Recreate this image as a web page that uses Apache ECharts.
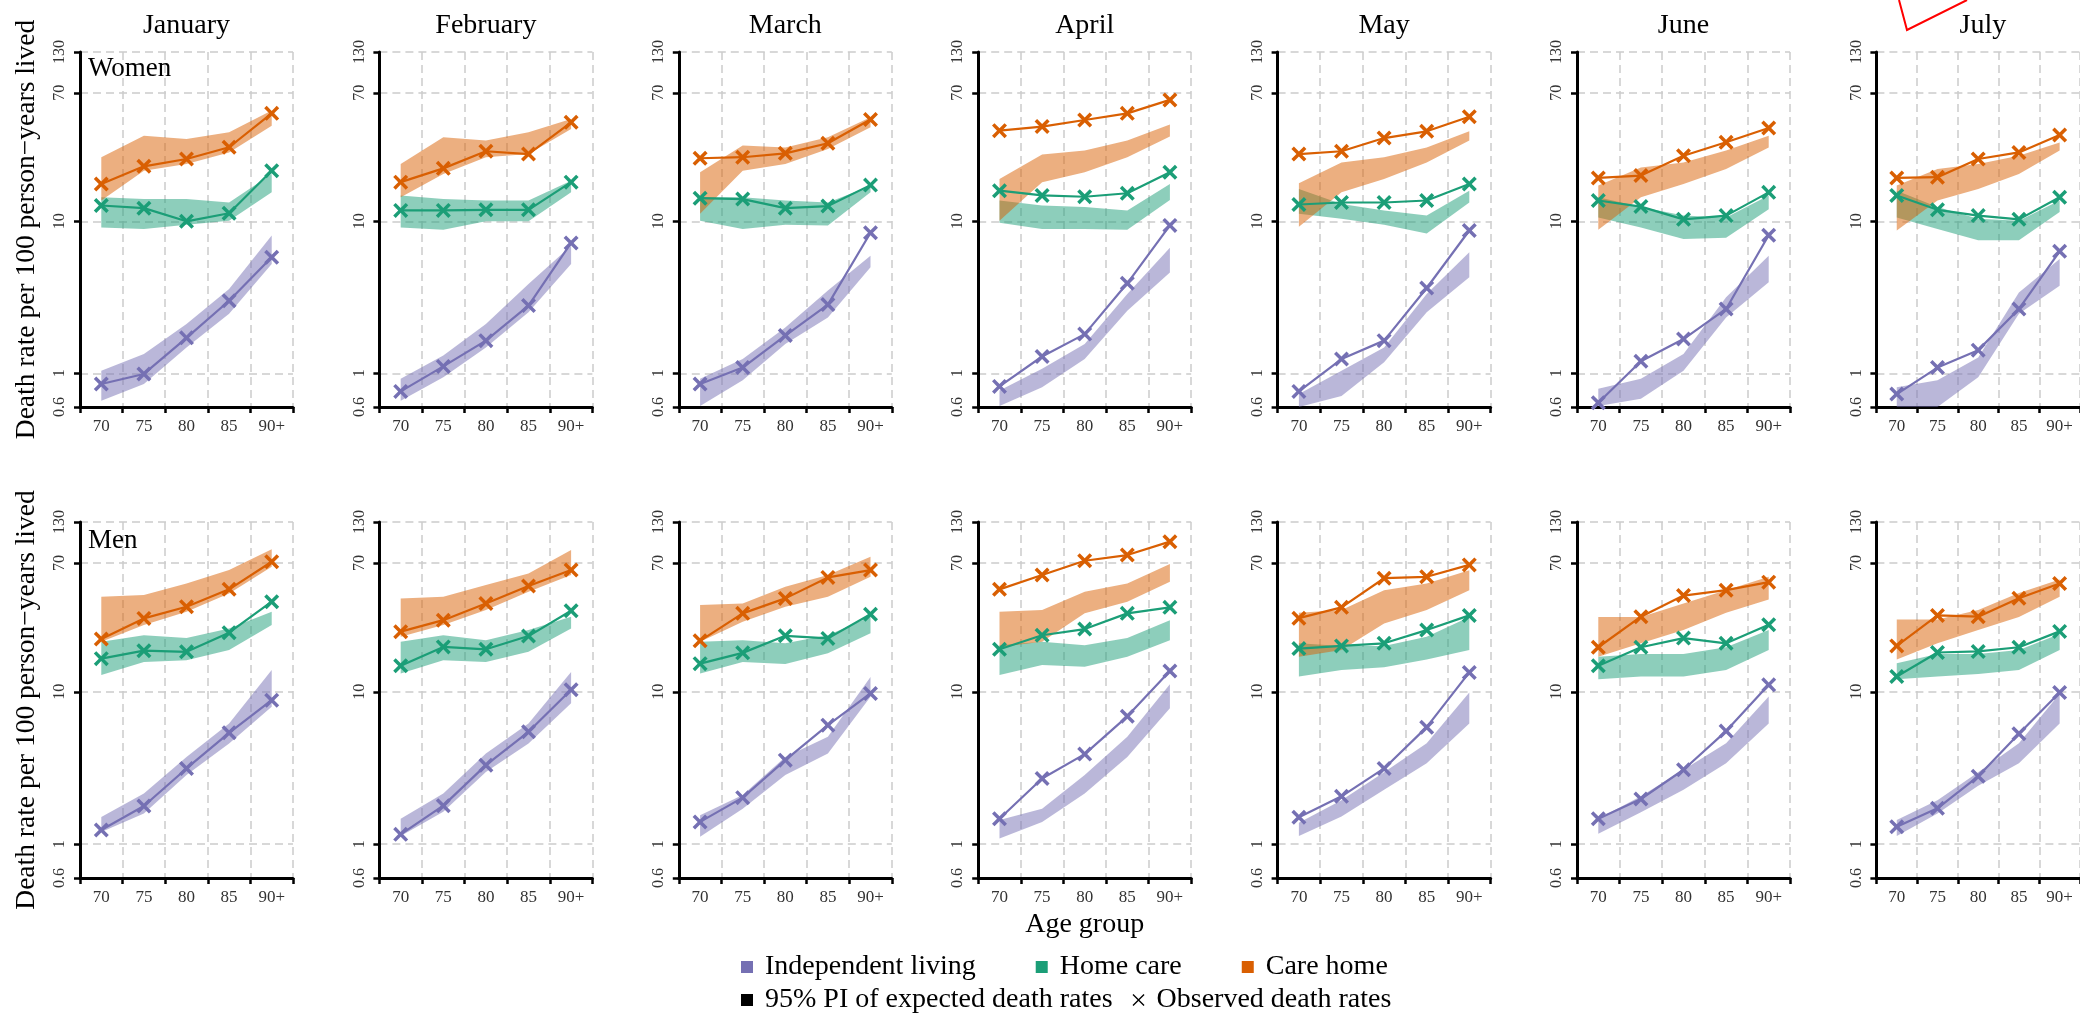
<!DOCTYPE html>
<html><head><meta charset="utf-8">
<script src="https://cdn.jsdelivr.net/npm/echarts@6/dist/echarts.min.js"></script>
<style>html,body{margin:0;padding:0;background:#fff}#c{width:2080px;height:1024px}</style>
</head><body><div id="c"></div><script>
// ---------- data ----------
const ageGroups = ['70', '75', '80', '85', '90+'];
const months = ['January', 'February', 'March', 'April', 'May', 'June', 'July'];
const yTickValues = [0.6, 1, 10, 70, 130];
const settings = ['Independent living', 'Home care', 'Care home'];

// Women — Independent living (rows = months Jan..Jul, cols = age groups)
const womenIndepObs = [[0.85,0.99,1.71,3.0,5.8],[0.76,1.11,1.64,2.79,7.2],[0.85,1.09,1.77,2.83,8.4],[0.82,1.29,1.81,3.91,9.4],[0.76,1.24,1.64,3.64,8.7],[0.64,1.20,1.68,2.65,8.1],[0.73,1.09,1.42,2.65,6.35]];
const womenIndepLo  = [[0.66,0.85,1.48,2.46,5.24],[0.66,0.94,1.48,2.52,5.24],[0.61,0.90,1.56,2.33,4.98],[0.61,0.81,1.24,2.58,4.6],[0.6,0.71,1.18,2.52,4.28],[0.61,0.68,1.04,2.33,3.97],[0.58,0.6,0.94,2.46,3.77]];
const womenIndepHi  = [[1.04,1.34,2.11,3.59,8.05],[0.92,1.31,2.11,3.87,6.9],[0.92,1.24,2.0,3.5,5.94],[0.77,1.07,1.56,3.32,6.7],[0.73,1.04,1.48,3.32,6.25],[0.79,0.92,1.34,3.16,5.94],[0.81,0.9,1.27,3.4,5.65]];
// Women — Home care
const womenHomeObs = [[12.7,12.2,10.0,11.3,21.5],[11.8,11.8,11.9,11.9,18.1],[14.2,14.0,12.2,12.6,17.3],[15.9,14.8,14.5,15.3,21.0],[12.9,13.3,13.3,13.7,17.6],[13.7,12.5,10.3,10.9,15.5],[14.8,11.9,10.9,10.3,14.4]];
const womenHomeLo  = [[9.1,8.9,9.5,10.1,15.5],[9.1,8.8,10.0,10.0,15.5],[10.1,8.9,9.5,9.4,15.5],[9.8,8.9,8.9,8.8,13.8],[11.2,10.4,9.5,8.3,13.3],[10.6,9.1,7.65,7.8,12.0],[10.6,8.9,7.5,7.5,11.5]];
const womenHomeHi  = [[14.4,14.0,14.0,13.3,20.5],[14.8,14.0,13.7,13.7,18.5],[14.4,14.4,13.7,13.3,17.1],[13.7,12.7,12.4,11.8,17.6],[16.3,13.0,11.8,10.9,15.9],[14.4,12.4,10.9,10.6,14.8],[15.9,12.4,10.4,10.1,13.7]];
// Women — Care home
const womenCareObs = [[17.6,23.0,25.7,30.7,51.3],[18.1,22.3,28.9,27.7,44.8],[26.0,26.4,28.0,32.6,46.7],[39.5,42.0,46.4,51.3,62.9],[27.7,28.9,35.3,39.1,48.8],[19.3,20.0,27.0,33.1,41.1],[19.3,19.5,25.7,28.4,37.0]];
const womenCareLo  = [[13.7,21.5,23.8,28.4,42.6],[14.4,20.5,26.4,27.7,40.5],[11.2,21.5,23.8,29.9,41.5],[10.1,18.1,21.0,26.4,36.1],[9.2,15.5,19.0,24.4,34.0],[8.8,14.4,17.6,22.1,30.6],[8.7,13.7,16.3,20.5,29.2]];
const womenCareHi  = [[26.4,36.6,34.8,38.5,53.5],[23.8,35.7,34.0,38.5,47.1],[21.0,31.5,30.6,35.7,48.3],[19.0,27.5,29.2,34.0,43.3],[17.8,24.4,26.4,30.6,39.1],[17.2,22.6,24.4,29.2,36.6],[17.2,22.1,23.8,27.0,33.0]];

// Men — Independent living
const menIndepObs = [[1.24,1.78,3.14,5.38,8.8],[1.16,1.79,3.30,5.46,10.3],[1.40,2.02,3.56,6.04,9.75],[1.47,2.70,3.90,6.9,13.7],[1.50,2.06,3.14,5.86,13.4],[1.47,1.98,3.08,5.52,11.1],[1.30,1.72,2.79,5.30,9.9]];
const menIndepLo  = [[1.2,1.59,2.84,4.58,7.97],[1.13,1.63,2.98,4.58,8.4],[1.12,1.71,2.84,3.94,9.27],[1.09,1.40,2.15,3.74,7.8],[1.13,1.52,2.28,3.4,6.2],[1.17,1.62,2.28,3.4,6.2],[1.13,1.59,2.42,3.4,6.2]];
const menIndepHi  = [[1.51,2.15,3.74,6.2,13.9],[1.47,2.15,3.94,6.2,13.5],[1.55,2.10,3.74,5.07,12.5],[1.44,1.71,2.84,5.07,11.2],[1.38,1.94,2.96,4.6,9.9],[1.47,2.06,3.08,4.6,9.3],[1.44,1.94,2.96,4.6,9.7]];
// Men — Home care
const menHomeObs = [[16.5,18.6,18.3,24.4,39.0],[14.8,19.7,19.0,23.2,34.0],[15.3,18.0,23.3,22.4,32.3],[19.0,23.5,25.8,32.7,35.8],[19.2,20.0,20.8,25.4,31.7],[14.8,19.6,22.5,20.8,27.5],[12.6,18.1,18.4,19.6,24.9]];
const menHomeLo  = [[12.9,15.7,16.1,18.8,27.4],[13.2,16.1,15.7,18.3,26.0],[13.2,15.7,15.2,17.9,24.2],[12.9,15.0,14.6,17.0,21.8],[12.6,13.9,14.5,16.3,18.8],[12.1,12.6,12.6,13.9,18.8],[12.1,12.6,13.1,13.9,18.8]];
const menHomeHi  = [[21.3,23.5,22.5,26.0,33.5],[21.3,23.5,21.8,25.4,31.1],[21.3,21.8,20.8,23.5,31.1],[20.2,21.3,20.2,22.5,29.5],[20.8,20.0,20.0,23.0,31.0],[17.0,17.7,17.7,19.6,25.4],[15.4,17.7,17.7,18.8,23.9]];
// Men — Care home
const menCareObs = [[22.2,30.3,36.1,47.0,71.3],[24.8,29.5,38.0,49.4,62.9],[21.6,32.7,41.0,56.3,62.9],[47.0,58.3,72.4,78.9,96.6],[30.4,35.8,55.6,56.8,68.0],[19.6,31.1,42.8,46.4,52.4],[20.0,31.7,31.1,41.1,51.3]];
const menCareLo  = [[21.3,27.4,33.5,44.2,66.2],[23.0,27.4,34.4,45.3,58.3],[21.3,28.8,36.1,42.0,56.9],[19.7,21.3,32.7,39.0,52.7],[17.0,18.8,28.1,34.4,46.4],[17.0,20.8,25.4,33.0,40.3],[16.3,20.8,25.4,31.0,42.0]];
const menCareHi  = [[42.0,43.1,51.4,62.9,86.0],[41.0,42.0,50.1,59.8,85.1],[37.1,38.0,48.9,58.3,76.9],[33.5,34.4,45.3,51.4,68.9],[33.0,34.4,46.4,51.3,62.8],[31.0,31.0,38.0,46.4,56.8],[29.8,29.8,34.4,44.5,54.5]];

// ---------- styling ----------
const SERIF = '"Liberation Serif", "Times New Roman", serif';
const COLORS = ['#7570b3', '#1b9e77', '#d95f02'];
const X_BOLD = 'path://M1.65,0L5,3.35L8.35,0L10,1.65L6.65,5L10,8.35L8.35,10L5,6.65L1.65,10L0,8.35L3.35,5L0,1.65Z';
const X_THIN = 'path://M0.8,0L5,4.2L9.2,0L10,0.8L5.8,5L10,9.2L9.2,10L5,5.8L0.8,10L0,9.2L4.2,5L0,0.8Z';
const PANEL_LEFT0 = 80, PANEL_STEP = 299.4, PANEL_W = 213;
const ROWS = [{top: 52, height: 355}, {top: 522, height: 356}];

const rowData = [
  [[womenIndepObs, womenIndepLo, womenIndepHi], [womenHomeObs, womenHomeLo, womenHomeHi], [womenCareObs, womenCareLo, womenCareHi]],
  [[menIndepObs, menIndepLo, menIndepHi], [menHomeObs, menHomeLo, menHomeHi], [menCareObs, menCareLo, menCareHi]]
];

const gridLine = {show: true, lineStyle: {color: '#cccccc', type: [8, 5], width: 1.5}};
const grids = [], xAxes = [], yAxes = [], series = [];

for (let r = 0; r < 2; r++) {
  for (let c = 0; c < 7; c++) {
    const p = r * 7 + c;
    grids.push({left: PANEL_LEFT0 + c * PANEL_STEP, top: ROWS[r].top, width: PANEL_W, height: ROWS[r].height});
    const xa = {
      type: 'category', gridIndex: p, data: ageGroups, boundaryGap: true,
      axisLine: {lineStyle: {color: '#000', width: 3}},
      axisTick: {show: true, length: 6, interval: 0, lineStyle: {color: '#000', width: 2.5}},
      axisLabel: {interval: 0, fontFamily: SERIF, fontSize: 17, color: '#333', margin: 11},
      splitLine: Object.assign({interval: 0}, gridLine)
    };
    if (r === 1 && c === 3) {
      Object.assign(xa, {name: 'Age group', nameLocation: 'middle', nameGap: 33,
        nameTextStyle: {fontFamily: SERIF, fontSize: 28, color: '#000'}});
    }
    xAxes.push(xa);
    const ya = {
      type: 'log', logBase: 10, gridIndex: p, min: 0.6, max: 130,
      axisLine: {show: true, lineStyle: {color: '#000', width: 3}},
      axisTick: {show: true, length: 6, customValues: yTickValues, lineStyle: {color: '#000', width: 2.5}},
      axisLabel: {customValues: yTickValues, rotate: 90, fontFamily: SERIF, fontSize: 16, color: '#333', margin: 12,
        formatter: v => String(Math.round(v * 100) / 100)},
      splitLine: gridLine,
      minorTick: {show: false}, minorSplitLine: {show: false}
    };
    if (c === 0) {
      Object.assign(ya, {name: 'Death rate per 100 person\u2212years lived', nameLocation: 'middle', nameGap: 39,
        nameTextStyle: {fontFamily: SERIF, fontSize: 27.5, color: '#000'}});
    }
    yAxes.push(ya);

    // bands (95% PI)
    for (let k = 0; k < 3; k++) {
      const lo = rowData[r][k][1][c], hi = rowData[r][k][2][c];
      series.push({
        type: 'custom', name: settings[k], xAxisIndex: p, yAxisIndex: p, clip: true, silent: true, z: 1,
        data: [[0, hi[0]]],
        renderItem: (params, api) => {
          const pts = [];
          for (let i = 0; i < ageGroups.length; i++) pts.push(api.coord([i, hi[i]]));
          for (let i = ageGroups.length - 1; i >= 0; i--) pts.push(api.coord([i, lo[i]]));
          return {type: 'polygon', shape: {points: pts}, style: {fill: COLORS[k], opacity: 0.5}};
        }
      });
    }
    // observed lines
    for (let k = 0; k < 3; k++) {
      series.push({
        type: 'line', name: settings[k], xAxisIndex: p, yAxisIndex: p, z: 3,
        data: rowData[r][k][0][c],
        symbol: X_BOLD, symbolSize: 15, showSymbol: true, symbolKeepAspect: true,
        lineStyle: {color: COLORS[k], width: 2.2}, itemStyle: {color: COLORS[k]},
        silent: true
      });
    }
  }
}
// legend-only entries
series.push({type: 'line', name: '95% PI of expected death rates', xAxisIndex: 0, yAxisIndex: 0, data: []});
series.push({type: 'line', name: 'Observed death rates', xAxisIndex: 0, yAxisIndex: 0, data: []});

const titles = months.map((m, c) => ({
  text: m, left: PANEL_LEFT0 + c * PANEL_STEP + PANEL_W / 2, top: 12, textAlign: 'center', padding: 0,
  textStyle: {fontFamily: SERIF, fontSize: 28, fontWeight: 'normal', color: '#000'}
}));
titles.push({text: 'Women', left: 88, top: 55, padding: 0, textStyle: {fontFamily: SERIF, fontSize: 27, fontWeight: 'normal', color: '#000'}});
titles.push({text: 'Men', left: 88, top: 527, padding: 0, textStyle: {fontFamily: SERIF, fontSize: 27, fontWeight: 'normal', color: '#000'}});

const legendText = {fontFamily: SERIF, fontSize: 28, color: '#000'};
const option = {
  animation: false,
  backgroundColor: '#fff',
  title: titles,
  grid: grids, xAxis: xAxes, yAxis: yAxes, series: series,
  legend: [
    {data: settings.map((s, k) => ({name: s, icon: 'rect', itemStyle: {color: COLORS[k]}})),
     left: 741, top: 953, itemWidth: 12, itemHeight: 12, itemGap: 60, padding: 0,
     formatter: ' {name}', selectedMode: false, textStyle: legendText},
    {data: [{name: '95% PI of expected death rates', icon: 'rect', itemStyle: {color: '#000'}},
            {name: 'Observed death rates', icon: X_THIN, itemStyle: {color: '#000'}}],
     left: 741, top: 986, itemWidth: 12, itemHeight: 12, itemGap: 20, padding: 0,
     formatter: ' {name}', selectedMode: false, textStyle: legendText}
  ],
  graphic: [{type: 'polyline', shape: {points: [[1899, 0], [1907, 30], [1967, 0]]},
    style: {stroke: '#ff0000', lineWidth: 2, fill: null}, silent: true}]
};
const chart = echarts.init(document.getElementById('c'), null, {renderer: 'canvas'});
chart.setOption(option);
</script></body></html>
